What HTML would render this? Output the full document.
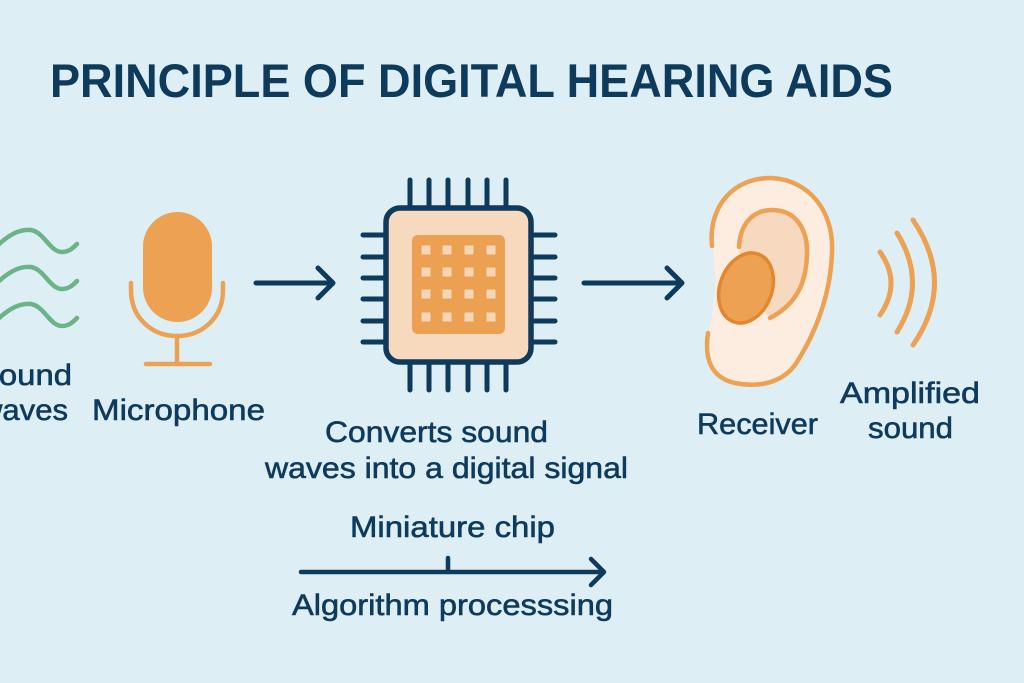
<!DOCTYPE html>
<html>
<head>
<meta charset="utf-8">
<style>
html,body{margin:0;padding:0;background:#ddeff5;}
svg{display:block;}
text{font-family:"Liberation Sans",Arial,sans-serif;fill:#0e3a5c;}
.lbl{font-size:30px;stroke:#0e3a5c;stroke-width:0.6px;}
</style>
</head>
<body>
<svg width="1024" height="683" viewBox="0 0 1024 683" xmlns="http://www.w3.org/2000/svg">
<rect width="1024" height="683" fill="#ddeff5"/>

<!-- Title -->
<text x="50" y="97" font-size="47" font-weight="bold" textLength="843" lengthAdjust="spacingAndGlyphs">PRINCIPLE OF DIGITAL HEARING AIDS</text>

<!-- Sound waves -->
<g fill="none" stroke="#6cb38a" stroke-width="4.5" stroke-linecap="round">
<path d="M -2 245 C 10 234, 20 229, 31 230 C 44 232, 50 252, 62 252 C 69 252, 73 248, 77 244"/>
<path d="M -2 282 C 10 271, 20 266, 31 267 C 44 269, 50 289, 62 289 C 69 289, 73 285, 77 281"/>
<path d="M -2 319 C 10 308, 20 303, 31 304 C 44 306, 50 326, 62 326 C 69 326, 73 322, 77 318"/>
</g>
<text class="lbl" x="-23" y="385" textLength="95" lengthAdjust="spacingAndGlyphs">Sound</text>
<text class="lbl" x="-20" y="420" textLength="88" lengthAdjust="spacingAndGlyphs">waves</text>

<!-- Microphone -->
<rect x="143" y="212" width="69" height="110" rx="34.5" fill="#eca153"/>
<g fill="none" stroke="#eca153" stroke-width="4.5" stroke-linecap="round">
<path d="M 131 283 L 131 290 C 131 318, 152 336, 177 336 C 202 336, 223 318, 223 290 L 223 283"/>
<line x1="177" y1="336" x2="177" y2="363"/>
<line x1="146" y1="364" x2="210" y2="364"/>
</g>
<text class="lbl" x="92" y="420" font-size="31" textLength="173" lengthAdjust="spacingAndGlyphs">Microphone</text>

<!-- Arrow 1 -->
<g fill="none" stroke="#0e3a5c" stroke-width="5" stroke-linecap="round" stroke-linejoin="round">
<line x1="256" y1="283" x2="332" y2="283"/>
<polyline points="318,268 333,283 318,298"/>
</g>

<!-- Chip -->
<g stroke="#0e3a5c" stroke-width="5" stroke-linecap="round">
<line x1="410" y1="180" x2="410" y2="207"/>
<line x1="429" y1="180" x2="429" y2="207"/>
<line x1="448" y1="180" x2="448" y2="207"/>
<line x1="468" y1="180" x2="468" y2="207"/>
<line x1="487" y1="180" x2="487" y2="207"/>
<line x1="506" y1="180" x2="506" y2="207"/>
<line x1="410" y1="363" x2="410" y2="390"/>
<line x1="429" y1="363" x2="429" y2="390"/>
<line x1="448" y1="363" x2="448" y2="390"/>
<line x1="468" y1="363" x2="468" y2="390"/>
<line x1="487" y1="363" x2="487" y2="390"/>
<line x1="506" y1="363" x2="506" y2="390"/>
<line x1="363" y1="235" x2="385" y2="235"/>
<line x1="363" y1="257" x2="385" y2="257"/>
<line x1="363" y1="278" x2="385" y2="278"/>
<line x1="363" y1="299" x2="385" y2="299"/>
<line x1="363" y1="321" x2="385" y2="321"/>
<line x1="363" y1="342" x2="385" y2="342"/>
<line x1="532" y1="235" x2="555" y2="235"/>
<line x1="532" y1="257" x2="555" y2="257"/>
<line x1="532" y1="278" x2="555" y2="278"/>
<line x1="532" y1="299" x2="555" y2="299"/>
<line x1="532" y1="321" x2="555" y2="321"/>
<line x1="532" y1="342" x2="555" y2="342"/>
</g>
<rect x="386" y="208" width="145" height="154" rx="14" fill="#f7dabd" stroke="#0e3a5c" stroke-width="5.5"/>
<rect x="412" y="235" width="93" height="99" rx="6" fill="#eba052"/>
<g fill="#f6d6b6">
<rect x="421.5" y="245.5" width="9" height="9"/><rect x="442.5" y="245.5" width="9" height="9"/><rect x="464.5" y="245.5" width="9" height="9"/><rect x="486.5" y="245.5" width="9" height="9"/>
<rect x="421.5" y="267.5" width="9" height="9"/><rect x="442.5" y="267.5" width="9" height="9"/><rect x="464.5" y="267.5" width="9" height="9"/><rect x="486.5" y="267.5" width="9" height="9"/>
<rect x="421.5" y="289.5" width="9" height="9"/><rect x="442.5" y="289.5" width="9" height="9"/><rect x="464.5" y="289.5" width="9" height="9"/><rect x="486.5" y="289.5" width="9" height="9"/>
<rect x="421.5" y="312.5" width="9" height="9"/><rect x="442.5" y="312.5" width="9" height="9"/><rect x="464.5" y="312.5" width="9" height="9"/><rect x="486.5" y="312.5" width="9" height="9"/>
</g>

<!-- Arrow 2 -->
<g fill="none" stroke="#0e3a5c" stroke-width="5" stroke-linecap="round" stroke-linejoin="round">
<line x1="584" y1="283" x2="681" y2="283"/>
<polyline points="667,268 682,283 667,298"/>
</g>

<text class="lbl" x="325" y="442" textLength="223" lengthAdjust="spacingAndGlyphs">Converts sound</text>
<text class="lbl" x="265" y="478" textLength="363" lengthAdjust="spacingAndGlyphs">waves into a digital signal</text>

<!-- Ear -->
<path d="M 712 246 C 708 205, 735 177, 772 178 C 808 180, 834 210, 832 252 C 831 290, 818 330, 795 365 C 780 385, 755 387, 735 383 C 712 378, 704 360, 708 333 Q 720 290 712 246 Z" fill="#fdede0"/>
<path d="M 739 247 C 740 225, 752 210, 772 210 C 795 210, 808 228, 807 255 C 806 285, 795 305, 770 318 L 745 290 Z" fill="#f7d9c0"/>
<g fill="none" stroke="#eca153" stroke-width="4.5" stroke-linecap="round">
<path d="M 712 246 C 708 205, 735 177, 772 178 C 808 180, 834 210, 832 252 C 831 290, 818 330, 795 365 C 780 385, 755 387, 735 383 C 712 378, 704 360, 708 333"/>
<path d="M 739 247 C 740 225, 752 210, 772 210 C 795 210, 808 228, 807 255 C 806 285, 795 305, 770 318"/>
</g>
<ellipse cx="746" cy="288" rx="26" ry="36" transform="rotate(20 746 288)" fill="#eca153" stroke="#e3872e" stroke-width="3.5"/>

<!-- Amplified arcs -->
<g fill="none" stroke="#eca153" stroke-width="5" stroke-linecap="round">
<path d="M 880 252 Q 902 283 880 315"/>
<path d="M 897 233 Q 928 283 897 332"/>
<path d="M 913 220 Q 956 283 913 345"/>
</g>

<text class="lbl" x="697" y="434" textLength="121" lengthAdjust="spacingAndGlyphs">Receiver</text>
<text class="lbl" x="840" y="403" textLength="140" lengthAdjust="spacingAndGlyphs">Amplified</text>
<text class="lbl" x="868" y="438" textLength="85" lengthAdjust="spacingAndGlyphs">sound</text>

<!-- Bottom -->
<text class="lbl" x="350" y="537" textLength="205" lengthAdjust="spacingAndGlyphs">Miniature chip</text>
<g fill="none" stroke="#0e3a5c" stroke-width="4.5" stroke-linecap="round" stroke-linejoin="round">
<line x1="301" y1="572" x2="602" y2="572"/>
<line x1="448" y1="558" x2="448" y2="572"/>
<polyline points="591,559 604,572 591,585"/>
</g>
<text class="lbl" x="292" y="615" textLength="321" lengthAdjust="spacingAndGlyphs">Algorithm processsing</text>
</svg>
</body>
</html>
